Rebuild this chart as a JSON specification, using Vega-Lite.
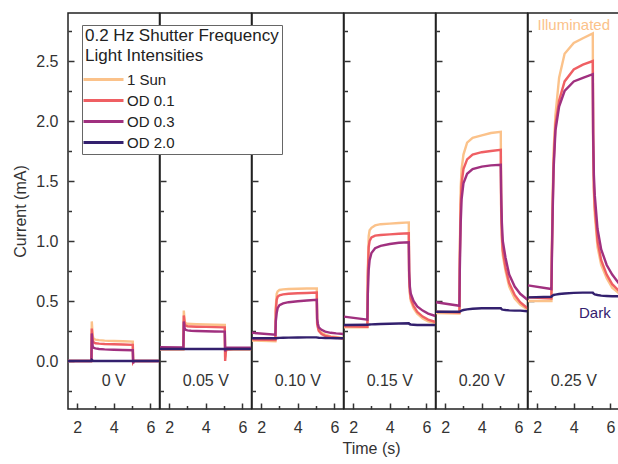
{
"$schema":"https://vega.github.io/schema/vega-lite/v6.json",
"padding":{"left":12,"top":12,"right":1,"bottom":3},
"bounds":"flush",
"spacing":0,
"config":{"font":"Liberation Sans","view":{"stroke":"#222","strokeWidth":1.5},
"axis":{"labelFontSize":16,"titleFontSize":16,"labelColor":"#333","titleColor":"#333","tickColor":"#333","tickWidth":1.5,"titleFontWeight":"normal","domain":false,"grid":false},
"legend":{"strokeColor":"#666","fillColor":"white","padding":3,"titleFontSize":17,"labelFontSize":15,"titleFontWeight":"normal","titleColor":"#222","labelColor":"#222","symbolType":"M-3,0H1","symbolSize":400,"symbolOffset":17,"symbolStrokeWidth":3,"rowPadding":1,"titlePadding":3,"titleLineHeight":20,"labelOffset":2,"titleLimit":0}},
"resolve":{"scale":{"color":"shared"},"legend":{"color":"shared"}},
"datasets":{
"lab":[{"p":"0 V"},{"p":"0.05 V"},{"p":"0.10 V"},{"p":"0.15 V"},{"p":"0.20 V"},{"p":"0.25 V"}],
"d":[
{"p":"0 V","t":1.5,"a":0,"b":0,"c":0,"d":0},
{"p":"0 V","t":2.78,"a":0,"b":0,"c":0,"d":0},
{"p":"0 V","t":2.8,"a":0.33,"b":0.27,"c":0.23,"d":0.01},
{"p":"0 V","t":2.85,"a":0.21,"b":0.17,"c":0.12,"d":0.005},
{"p":"0 V","t":2.9,"a":0.185,"b":0.155,"c":0.11,"d":0},
{"p":"0 V","t":3.0,"a":0.178,"b":0.148,"c":0.105,"d":0},
{"p":"0 V","t":3.2,"a":0.174,"b":0.145,"c":0.1,"d":0},
{"p":"0 V","t":3.5,"a":0.17,"b":0.142,"c":0.097,"d":0},
{"p":"0 V","t":4.0,"a":0.167,"b":0.14,"c":0.094,"d":0},
{"p":"0 V","t":4.5,"a":0.165,"b":0.137,"c":0.092,"d":0},
{"p":"0 V","t":5.04,"a":0.162,"b":0.135,"c":0.09,"d":0},
{"p":"0 V","t":5.06,"a":0,"b":-0.01,"c":-0.02,"d":0},
{"p":"0 V","t":5.1,"a":0,"b":0,"c":0,"d":0},
{"p":"0 V","t":5.5,"a":0,"b":0,"c":0,"d":0},
{"p":"0 V","t":6.5,"a":0,"b":0,"c":0,"d":0},
{"p":"0.05 V","t":1.5,"a":0.095,"b":0.1,"c":0.115,"d":0.1},
{"p":"0.05 V","t":2.78,"a":0.095,"b":0.1,"c":0.112,"d":0.1},
{"p":"0.05 V","t":2.8,"a":0.42,"b":0.38,"c":0.33,"d":0.1},
{"p":"0.05 V","t":2.85,"a":0.33,"b":0.31,"c":0.27,"d":0.1},
{"p":"0.05 V","t":2.9,"a":0.315,"b":0.295,"c":0.26,"d":0.1},
{"p":"0.05 V","t":3.0,"a":0.31,"b":0.29,"c":0.255,"d":0.1},
{"p":"0.05 V","t":3.2,"a":0.308,"b":0.288,"c":0.252,"d":0.1},
{"p":"0.05 V","t":3.5,"a":0.306,"b":0.286,"c":0.25,"d":0.1},
{"p":"0.05 V","t":4.0,"a":0.304,"b":0.284,"c":0.248,"d":0.1},
{"p":"0.05 V","t":4.5,"a":0.302,"b":0.282,"c":0.246,"d":0.1},
{"p":"0.05 V","t":5.04,"a":0.3,"b":0.28,"c":0.245,"d":0.1},
{"p":"0.05 V","t":5.06,"a":0.03,"b":0.0,"c":0.08,"d":0.1},
{"p":"0.05 V","t":5.1,"a":0.09,"b":0.08,"c":0.105,"d":0.1},
{"p":"0.05 V","t":5.15,"a":0.095,"b":0.095,"c":0.11,"d":0.1},
{"p":"0.05 V","t":5.5,"a":0.095,"b":0.1,"c":0.11,"d":0.1},
{"p":"0.05 V","t":6.5,"a":0.095,"b":0.1,"c":0.11,"d":0.1},
{"p":"0.10 V","t":1.5,"a":0.17,"b":0.18,"c":0.235,"d":0.19},
{"p":"0.10 V","t":2.78,"a":0.165,"b":0.175,"c":0.22,"d":0.19},
{"p":"0.10 V","t":2.8,"a":0.45,"b":0.42,"c":0.33,"d":0.19},
{"p":"0.10 V","t":2.85,"a":0.56,"b":0.51,"c":0.4,"d":0.19},
{"p":"0.10 V","t":2.9,"a":0.58,"b":0.535,"c":0.44,"d":0.192},
{"p":"0.10 V","t":3.0,"a":0.592,"b":0.548,"c":0.465,"d":0.193},
{"p":"0.10 V","t":3.2,"a":0.597,"b":0.555,"c":0.48,"d":0.194},
{"p":"0.10 V","t":3.5,"a":0.6,"b":0.56,"c":0.49,"d":0.195},
{"p":"0.10 V","t":4.0,"a":0.602,"b":0.564,"c":0.498,"d":0.196},
{"p":"0.10 V","t":4.5,"a":0.604,"b":0.567,"c":0.504,"d":0.197},
{"p":"0.10 V","t":5.04,"a":0.605,"b":0.57,"c":0.51,"d":0.197},
{"p":"0.10 V","t":5.06,"a":0.32,"b":0.31,"c":0.35,"d":0.196},
{"p":"0.10 V","t":5.1,"a":0.29,"b":0.28,"c":0.31,"d":0.195},
{"p":"0.10 V","t":5.15,"a":0.26,"b":0.25,"c":0.28,"d":0.194},
{"p":"0.10 V","t":5.3,"a":0.235,"b":0.225,"c":0.26,"d":0.193},
{"p":"0.10 V","t":5.5,"a":0.22,"b":0.21,"c":0.245,"d":0.192},
{"p":"0.10 V","t":5.8,"a":0.205,"b":0.2,"c":0.235,"d":0.191},
{"p":"0.10 V","t":6.1,"a":0.2,"b":0.195,"c":0.23,"d":0.19},
{"p":"0.10 V","t":6.5,"a":0.19,"b":0.185,"c":0.225,"d":0.19},
{"p":"0.15 V","t":1.5,"a":0.28,"b":0.29,"c":0.37,"d":0.3},
{"p":"0.15 V","t":2.78,"a":0.28,"b":0.285,"c":0.345,"d":0.302},
{"p":"0.15 V","t":2.8,"a":0.75,"b":0.7,"c":0.55,"d":0.302},
{"p":"0.15 V","t":2.85,"a":1.04,"b":0.95,"c":0.76,"d":0.303},
{"p":"0.15 V","t":2.9,"a":1.09,"b":1.0,"c":0.84,"d":0.304},
{"p":"0.15 V","t":3.0,"a":1.11,"b":1.03,"c":0.9,"d":0.305},
{"p":"0.15 V","t":3.2,"a":1.13,"b":1.045,"c":0.94,"d":0.306},
{"p":"0.15 V","t":3.5,"a":1.14,"b":1.05,"c":0.96,"d":0.308},
{"p":"0.15 V","t":4.0,"a":1.145,"b":1.055,"c":0.975,"d":0.31},
{"p":"0.15 V","t":4.5,"a":1.15,"b":1.06,"c":0.985,"d":0.312},
{"p":"0.15 V","t":5.04,"a":1.155,"b":1.065,"c":0.99,"d":0.315},
{"p":"0.15 V","t":5.06,"a":0.68,"b":0.7,"c":0.75,"d":0.31},
{"p":"0.15 V","t":5.1,"a":0.56,"b":0.58,"c":0.62,"d":0.306},
{"p":"0.15 V","t":5.15,"a":0.5,"b":0.52,"c":0.56,"d":0.304},
{"p":"0.15 V","t":5.3,"a":0.44,"b":0.46,"c":0.5,"d":0.302},
{"p":"0.15 V","t":5.5,"a":0.395,"b":0.41,"c":0.455,"d":0.3},
{"p":"0.15 V","t":5.8,"a":0.355,"b":0.37,"c":0.42,"d":0.3},
{"p":"0.15 V","t":6.1,"a":0.33,"b":0.345,"c":0.395,"d":0.3},
{"p":"0.15 V","t":6.5,"a":0.315,"b":0.325,"c":0.375,"d":0.3},
{"p":"0.20 V","t":1.5,"a":0.4,"b":0.41,"c":0.49,"d":0.41},
{"p":"0.20 V","t":2.78,"a":0.395,"b":0.405,"c":0.46,"d":0.41},
{"p":"0.20 V","t":2.8,"a":0.9,"b":0.85,"c":0.75,"d":0.412},
{"p":"0.20 V","t":2.85,"a":1.45,"b":1.3,"c":1.15,"d":0.415},
{"p":"0.20 V","t":2.9,"a":1.6,"b":1.48,"c":1.35,"d":0.42},
{"p":"0.20 V","t":3.0,"a":1.72,"b":1.6,"c":1.48,"d":0.425},
{"p":"0.20 V","t":3.2,"a":1.82,"b":1.68,"c":1.56,"d":0.43},
{"p":"0.20 V","t":3.5,"a":1.86,"b":1.72,"c":1.6,"d":0.435},
{"p":"0.20 V","t":4.0,"a":1.88,"b":1.74,"c":1.62,"d":0.44},
{"p":"0.20 V","t":4.5,"a":1.9,"b":1.75,"c":1.63,"d":0.44},
{"p":"0.20 V","t":5.04,"a":1.91,"b":1.76,"c":1.635,"d":0.44},
{"p":"0.20 V","t":5.06,"a":1.25,"b":1.3,"c":1.4,"d":0.435},
{"p":"0.20 V","t":5.1,"a":1.0,"b":1.05,"c":1.15,"d":0.43},
{"p":"0.20 V","t":5.15,"a":0.88,"b":0.92,"c":1.0,"d":0.428},
{"p":"0.20 V","t":5.3,"a":0.75,"b":0.78,"c":0.86,"d":0.425},
{"p":"0.20 V","t":5.5,"a":0.62,"b":0.65,"c":0.72,"d":0.422},
{"p":"0.20 V","t":5.8,"a":0.52,"b":0.55,"c":0.62,"d":0.42},
{"p":"0.20 V","t":6.1,"a":0.47,"b":0.49,"c":0.56,"d":0.42},
{"p":"0.20 V","t":6.5,"a":0.43,"b":0.44,"c":0.51,"d":0.415},
{"p":"0.25 V","t":1.5,"a":0.5,"b":0.53,"c":0.63,"d":0.53},
{"p":"0.25 V","t":2.78,"a":0.5,"b":0.52,"c":0.6,"d":0.535},
{"p":"0.25 V","t":2.8,"a":0.9,"b":0.85,"c":0.8,"d":0.54},
{"p":"0.25 V","t":2.85,"a":1.4,"b":1.3,"c":1.25,"d":0.545},
{"p":"0.25 V","t":2.9,"a":1.75,"b":1.65,"c":1.6,"d":0.55},
{"p":"0.25 V","t":3.0,"a":2.05,"b":1.97,"c":1.92,"d":0.553},
{"p":"0.25 V","t":3.2,"a":2.36,"b":2.17,"c":2.12,"d":0.558},
{"p":"0.25 V","t":3.5,"a":2.56,"b":2.33,"c":2.25,"d":0.563},
{"p":"0.25 V","t":4.0,"a":2.65,"b":2.43,"c":2.33,"d":0.568},
{"p":"0.25 V","t":4.5,"a":2.69,"b":2.47,"c":2.36,"d":0.57},
{"p":"0.25 V","t":5.04,"a":2.73,"b":2.5,"c":2.39,"d":0.57},
{"p":"0.25 V","t":5.06,"a":1.8,"b":1.85,"c":1.9,"d":0.565},
{"p":"0.25 V","t":5.1,"a":1.4,"b":1.45,"c":1.55,"d":0.56},
{"p":"0.25 V","t":5.15,"a":1.22,"b":1.28,"c":1.38,"d":0.555},
{"p":"0.25 V","t":5.3,"a":0.95,"b":1.0,"c":1.1,"d":0.55},
{"p":"0.25 V","t":5.5,"a":0.8,"b":0.84,"c":0.93,"d":0.545},
{"p":"0.25 V","t":5.8,"a":0.69,"b":0.72,"c":0.8,"d":0.542},
{"p":"0.25 V","t":6.1,"a":0.61,"b":0.64,"c":0.72,"d":0.54},
{"p":"0.25 V","t":6.5,"a":0.56,"b":0.58,"c":0.64,"d":0.54}
]},
"hconcat":[
{"width":91.5,"height":396,"resolve":{"axis":{"x":"independent","y":"independent"}},"layer":[
{"data":{"name":"d"},"transform":[{"filter":"datum.p=='0 V'"},{"fold":["a","b","c","d"],"as":["s","v"]}],"mark":{"type":"line","strokeWidth":2.4},
"encoding":{"x":{"field":"t","type":"quantitative","scale":{"domain":[1.5,6.5],"nice":false},"axis":{"values":[2,4,6],"offset":-6,"tickSize":6,"title":null,"labelPadding":10}},
"y":{"field":"v","type":"quantitative","scale":{"domain":[-0.4,2.9],"nice":false},"axis":{"values":[0,0.5,1,1.5,2,2.5],"format":".1f","offset":-6,"tickSize":6,"title":"Current (mA)","labelPadding":10,"titlePadding":7}},
"color":{"field":"s","type":"nominal","scale":{"domain":["a","b","c","d"],"range":["#fbc28a","#ef5f63","#a0307f","#33206e"]},"legend":{"orient":"none","legendX":14,"legendY":12,"title":["0.2 Hz Shutter Frequency","Light Intensities"],"labelExpr":"datum.label=='a'?'1 Sun':datum.label=='b'?'OD 0.1':datum.label=='c'?'OD 0.3':'OD 2.0'"}}}},
{"data":{"name":"lab"},"transform":[{"filter":"datum.p=='0 V'"}],"mark":{"type":"text","fontSize":16,"color":"#333"},"encoding":{"x":{"datum":4,"axis":{"values":[3,5],"offset":-3.5,"tickSize":3.5,"labels":false,"title":null,"orient":"bottom"}},"y":{"datum":-0.17,"axis":{"values":[-0.25,0.25,0.75,1.25,1.75,2.25,2.75],"offset":-3.5,"tickSize":3.5,"labels":false,"title":null,"orient":"left"}},"text":{"field":"p"}}}
]},
{"width":91.5,"height":396,"resolve":{"axis":{"x":"independent","y":"independent"}},"layer":[
{"data":{"name":"d"},"transform":[{"filter":"datum.p=='0.05 V'"},{"fold":["a","b","c","d"],"as":["s","v"]}],"mark":{"type":"line","strokeWidth":2.4},
"encoding":{"x":{"field":"t","type":"quantitative","scale":{"domain":[1.5,6.5],"nice":false},"axis":{"values":[2,4,6],"offset":-6,"tickSize":6,"title":null,"labelPadding":10}},
"y":{"field":"v","type":"quantitative","scale":{"domain":[-0.4,2.9],"nice":false},"axis":{"values":[0,0.5,1,1.5,2,2.5],"labels":false,"offset":-6,"tickSize":6,"title":null}},
"color":{"field":"s","type":"nominal","scale":{"domain":["a","b","c","d"],"range":["#fbc28a","#ef5f63","#a0307f","#33206e"]},"legend":{"orient":"none","legendX":14,"legendY":12,"title":["0.2 Hz Shutter Frequency","Light Intensities"],"labelExpr":"datum.label=='a'?'1 Sun':datum.label=='b'?'OD 0.1':datum.label=='c'?'OD 0.3':'OD 2.0'"}}}},
{"data":{"name":"lab"},"transform":[{"filter":"datum.p=='0.05 V'"}],"mark":{"type":"text","fontSize":16,"color":"#333"},"encoding":{"x":{"datum":4,"axis":{"values":[3,5],"offset":-3.5,"tickSize":3.5,"labels":false,"title":null,"orient":"bottom"}},"y":{"datum":-0.17,"axis":{"values":[-0.25,0.25,0.75,1.25,1.75,2.25,2.75],"offset":-3.5,"tickSize":3.5,"labels":false,"title":null,"orient":"left"}},"text":{"field":"p"}}}
]},
{"width":91.5,"height":396,"resolve":{"axis":{"x":"independent","y":"independent"}},"layer":[
{"data":{"name":"d"},"transform":[{"filter":"datum.p=='0.10 V'"},{"fold":["a","b","c","d"],"as":["s","v"]}],"mark":{"type":"line","strokeWidth":2.4},
"encoding":{"x":{"field":"t","type":"quantitative","scale":{"domain":[1.5,6.5],"nice":false},"axis":{"values":[2,4,6],"offset":-6,"tickSize":6,"title":null,"labelPadding":10}},
"y":{"field":"v","type":"quantitative","scale":{"domain":[-0.4,2.9],"nice":false},"axis":{"values":[0,0.5,1,1.5,2,2.5],"labels":false,"offset":-6,"tickSize":6,"title":null}},
"color":{"field":"s","type":"nominal","scale":{"domain":["a","b","c","d"],"range":["#fbc28a","#ef5f63","#a0307f","#33206e"]},"legend":{"orient":"none","legendX":14,"legendY":12,"title":["0.2 Hz Shutter Frequency","Light Intensities"],"labelExpr":"datum.label=='a'?'1 Sun':datum.label=='b'?'OD 0.1':datum.label=='c'?'OD 0.3':'OD 2.0'"}}}},
{"data":{"name":"lab"},"transform":[{"filter":"datum.p=='0.10 V'"}],"mark":{"type":"text","fontSize":16,"color":"#333"},"encoding":{"x":{"datum":4,"axis":{"values":[3,5],"offset":-3.5,"tickSize":3.5,"labels":false,"title":null,"orient":"bottom"}},"y":{"datum":-0.17,"axis":{"values":[-0.25,0.25,0.75,1.25,1.75,2.25,2.75],"offset":-3.5,"tickSize":3.5,"labels":false,"title":null,"orient":"left"}},"text":{"field":"p"}}}
]},
{"width":91.5,"height":396,"resolve":{"axis":{"x":"independent","y":"independent"}},"layer":[
{"data":{"name":"d"},"transform":[{"filter":"datum.p=='0.15 V'"},{"fold":["a","b","c","d"],"as":["s","v"]}],"mark":{"type":"line","strokeWidth":2.4},
"encoding":{"x":{"field":"t","type":"quantitative","scale":{"domain":[1.5,6.5],"nice":false},"axis":{"values":[2,4,6],"offset":-6,"tickSize":6,"title":"Time (s)","titleX":27,"titlePadding":5,"labelPadding":10}},
"y":{"field":"v","type":"quantitative","scale":{"domain":[-0.4,2.9],"nice":false},"axis":{"values":[0,0.5,1,1.5,2,2.5],"labels":false,"offset":-6,"tickSize":6,"title":null}},
"color":{"field":"s","type":"nominal","scale":{"domain":["a","b","c","d"],"range":["#fbc28a","#ef5f63","#a0307f","#33206e"]},"legend":{"orient":"none","legendX":14,"legendY":12,"title":["0.2 Hz Shutter Frequency","Light Intensities"],"labelExpr":"datum.label=='a'?'1 Sun':datum.label=='b'?'OD 0.1':datum.label=='c'?'OD 0.3':'OD 2.0'"}}}},
{"data":{"name":"lab"},"transform":[{"filter":"datum.p=='0.15 V'"}],"mark":{"type":"text","fontSize":16,"color":"#333"},"encoding":{"x":{"datum":4,"axis":{"values":[3,5],"offset":-3.5,"tickSize":3.5,"labels":false,"title":null,"orient":"bottom"}},"y":{"datum":-0.17,"axis":{"values":[-0.25,0.25,0.75,1.25,1.75,2.25,2.75],"offset":-3.5,"tickSize":3.5,"labels":false,"title":null,"orient":"left"}},"text":{"field":"p"}}}
]},
{"width":91.5,"height":396,"resolve":{"axis":{"x":"independent","y":"independent"}},"layer":[
{"data":{"name":"d"},"transform":[{"filter":"datum.p=='0.20 V'"},{"fold":["a","b","c","d"],"as":["s","v"]}],"mark":{"type":"line","strokeWidth":2.4},
"encoding":{"x":{"field":"t","type":"quantitative","scale":{"domain":[1.5,6.5],"nice":false},"axis":{"values":[2,4,6],"offset":-6,"tickSize":6,"title":null,"labelPadding":10}},
"y":{"field":"v","type":"quantitative","scale":{"domain":[-0.4,2.9],"nice":false},"axis":{"values":[0,0.5,1,1.5,2,2.5],"labels":false,"offset":-6,"tickSize":6,"title":null}},
"color":{"field":"s","type":"nominal","scale":{"domain":["a","b","c","d"],"range":["#fbc28a","#ef5f63","#a0307f","#33206e"]},"legend":{"orient":"none","legendX":14,"legendY":12,"title":["0.2 Hz Shutter Frequency","Light Intensities"],"labelExpr":"datum.label=='a'?'1 Sun':datum.label=='b'?'OD 0.1':datum.label=='c'?'OD 0.3':'OD 2.0'"}}}},
{"data":{"name":"lab"},"transform":[{"filter":"datum.p=='0.20 V'"}],"mark":{"type":"text","fontSize":16,"color":"#333"},"encoding":{"x":{"datum":4,"axis":{"values":[3,5],"offset":-3.5,"tickSize":3.5,"labels":false,"title":null,"orient":"bottom"}},"y":{"datum":-0.17,"axis":{"values":[-0.25,0.25,0.75,1.25,1.75,2.25,2.75],"offset":-3.5,"tickSize":3.5,"labels":false,"title":null,"orient":"left"}},"text":{"field":"p"}}}
]},
{"width":91.5,"height":396,"resolve":{"axis":{"x":"independent","y":"independent"}},"layer":[
{"data":{"name":"d"},"transform":[{"filter":"datum.p=='0.25 V'"},{"fold":["a","b","c","d"],"as":["s","v"]}],"mark":{"type":"line","strokeWidth":2.4},
"encoding":{"x":{"field":"t","type":"quantitative","scale":{"domain":[1.5,6.5],"nice":false},"axis":{"values":[2,4,6],"offset":-6,"tickSize":6,"title":null,"labelPadding":10}},
"y":{"field":"v","type":"quantitative","scale":{"domain":[-0.4,2.9],"nice":false},"axis":{"values":[0,0.5,1,1.5,2,2.5],"labels":false,"offset":-6,"tickSize":6,"title":null}},
"color":{"field":"s","type":"nominal","scale":{"domain":["a","b","c","d"],"range":["#fbc28a","#ef5f63","#a0307f","#33206e"]},"legend":{"orient":"none","legendX":14,"legendY":12,"title":["0.2 Hz Shutter Frequency","Light Intensities"],"labelExpr":"datum.label=='a'?'1 Sun':datum.label=='b'?'OD 0.1':datum.label=='c'?'OD 0.3':'OD 2.0'"}}}},
{"data":{"name":"lab"},"transform":[{"filter":"datum.p=='0.25 V'"}],"mark":{"type":"text","fontSize":16,"color":"#333"},"encoding":{"x":{"datum":4,"axis":{"values":[3,5],"offset":-3.5,"tickSize":3.5,"labels":false,"title":null,"orient":"bottom"}},"y":{"datum":-0.17,"axis":{"values":[-0.25,0.25,0.75,1.25,1.75,2.25,2.75],"offset":-3.5,"tickSize":3.5,"labels":false,"title":null,"orient":"left"}},"text":{"field":"p"}}},
{"data":{"values":[{"txt":"Illuminated"}]},"mark":{"type":"text","fontSize":15,"color":"#fbc28a"},"encoding":{"x":{"datum":4.0,"axis":null},"y":{"datum":2.8,"axis":null},"text":{"field":"txt"}}},
{"data":{"values":[{"txt":"Dark"}]},"mark":{"type":"text","fontSize":15,"color":"#33206e"},"encoding":{"x":{"datum":5.15,"axis":null},"y":{"datum":0.4,"axis":null},"text":{"field":"txt"}}}
]}
]
}
